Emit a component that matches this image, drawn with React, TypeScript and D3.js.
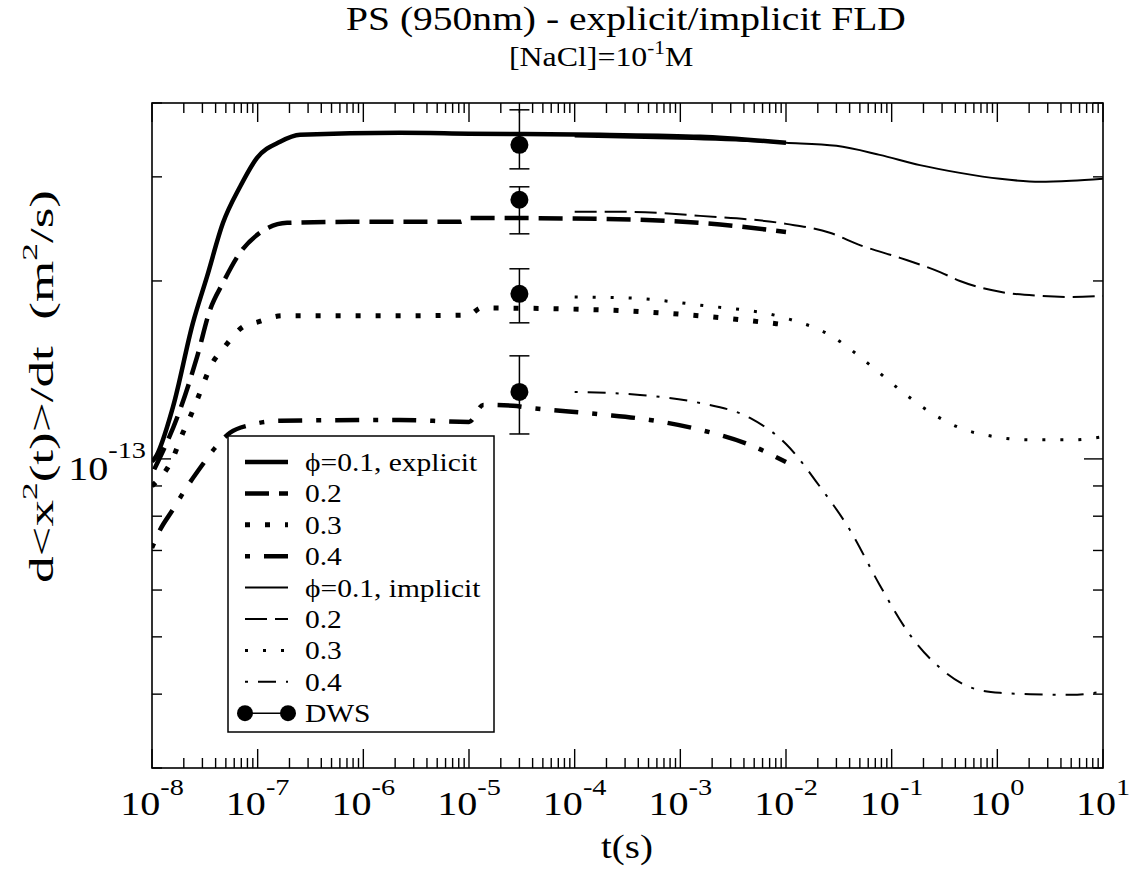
import React from "react";
import * as d3 from "d3";

// ---- data (t in s, value in m^2/s) ----
const explicit01: [number, number][] = [
  [1.0e-8, 0.99e-13], [1.07e-8, 1.004e-13], [1.58e-8, 1.225e-13], [2.44e-8, 1.699e-13],
  [3.31e-8, 2.032e-13], [4.7e-8, 2.508e-13], [6.81e-8, 2.886e-13], [9.86e-8, 3.23e-13],
  [1.63e-7, 3.439e-13], [2.52e-7, 3.533e-13], [2.22e-6, 3.562e-13], [1.0e-5, 3.55e-13],
  [1.74e-4, 3.533e-13], [1.54e-3, 3.506e-13], [1.0e-2, 3.425e-13],
];
const explicit02: [number, number][] = [
  [1.05e-8, 0.96e-13], [1.84e-8, 1.21e-13], [2.67e-8, 1.488e-13], [3.54e-8, 1.787e-13],
  [4.7e-8, 1.986e-13], [6.81e-8, 2.232e-13], [1.05e-7, 2.413e-13], [1.9e-7, 2.508e-13],
  [7.48e-7, 2.518e-13], [8.2e-6, 2.518e-13], [1.02e-5, 2.557e-13], [1.74e-4, 2.547e-13],
  [1.54e-3, 2.508e-13], [1.0e-2, 2.42e-13],
];
const explicit03: [number, number][] = [
  [1.0e-8, 0.9e-13], [1.58e-8, 1.004e-13], [1.96e-8, 1.107e-13], [2.19e-8, 1.155e-13],
  [2.67e-8, 1.258e-13], [3.78e-8, 1.459e-13], [4.7e-8, 1.535e-13], [7.26e-8, 1.673e-13],
  [1.01e-7, 1.705e-13], [1.7e-7, 1.746e-13], [2.2e-6, 1.746e-13], [1.0e-5, 1.752e-13],
  [1.3e-5, 1.8e-13], [1.74e-4, 1.787e-13], [1.54e-3, 1.746e-13], [1.0e-2, 1.686e-13],
];
const explicit04: [number, number][] = [
  [1.0e-8, 0.707e-13], [1.19e-8, 0.758e-13], [1.55e-8, 0.817e-13], [2.05e-8, 0.886e-13],
  [2.85e-8, 0.965e-13], [3.95e-8, 1.044e-13], [5.47e-8, 1.107e-13], [8.46e-8, 1.141e-13],
  [1.63e-7, 1.16e-13], [2.2e-6, 1.164e-13], [1.0e-5, 1.155e-13], [1.36e-5, 1.234e-13],
  [2.61e-5, 1.23e-13], [3.78e-5, 1.22e-13], [1.74e-4, 1.19e-13], [5.16e-4, 1.164e-13],
  [1.54e-3, 1.12e-13], [4.56e-3, 1.056e-13], [1.0e-2, 0.988e-13],
];
const implicit01: [number, number][] = [
  [1.0e-4, 3.51e-13], [1.0e-3, 3.479e-13], [1.0e-2, 3.425e-13], [3.0e-2, 3.385e-13],
  [7.7e-2, 3.268e-13], [0.185, 3.14e-13], [0.443, 3.047e-13], [1.06, 2.977e-13],
  [2.53, 2.943e-13], [5.0, 2.954e-13], [10, 2.977e-13],
];
const implicit02: [number, number][] = [
  [1.0e-4, 2.618e-13], [3.2e-4, 2.618e-13], [1.54e-3, 2.577e-13], [1.0e-2, 2.498e-13],
  [2.6e-2, 2.413e-13], [5.0e-2, 2.3e-13], [0.12, 2.188e-13], [0.287, 2.07e-13],
  [0.443, 2.0e-13], [1.06, 1.917e-13], [2.53, 1.887e-13], [5.0, 1.879e-13], [10, 1.887e-13],
];
const implicit03: [number, number][] = [
  [1.0e-4, 1.879e-13], [3.2e-4, 1.872e-13], [1.54e-3, 1.82e-13], [1.0e-2, 1.73e-13],
  [2.6e-2, 1.62e-13], [6.2e-2, 1.443e-13], [0.12, 1.308e-13], [0.231, 1.2e-13],
  [0.443, 1.128e-13], [0.851, 1.094e-13], [2.04, 1.077e-13], [5.0, 1.077e-13], [10, 1.09e-13],
];
const implicit04: [number, number][] = [
  [1.0e-4, 1.298e-13], [4.15e-4, 1.283e-13], [1.54e-3, 1.243e-13], [4.56e-3, 1.173e-13],
  [1.0e-2, 1.06e-13], [2.1e-2, 0.897e-13], [4.03e-2, 0.758e-13], [7.7e-2, 0.612e-13],
  [0.149, 0.504e-13], [0.287, 0.443e-13], [0.551, 0.411e-13], [1.06, 0.402e-13],
  [2.04, 0.4e-13], [5.0, 0.399e-13], [10, 0.404e-13],
];
const dwsT = 3.0e-5;
const dwsValues = [3.399e-13, 2.744e-13, 1.902e-13, 1.298e-13];
const dwsUpper = [3.895e-13, 2.886e-13, 2.097e-13, 1.494e-13];
const dwsLower = [3.095e-13, 2.403e-13, 1.699e-13, 1.102e-13];

const xDomain: [number, number] = [1e-8, 10];
const yDomain: [number, number] = [3e-14, 4e-13];
const xTickExps = [-8, -7, -6, -5, -4, -3, -2, -1, 0, 1];
const yTickExps = [-13];
const legendLabels = [
  "\u03D5=0.1, explicit", "0.2", "0.3", "0.4",
  "\u03D5=0.1, implicit", "0.2", "0.3", "0.4", "DWS",
];

const FONT = "Liberation Serif";
const SX = 1.18; // horizontal glyph stretch of the reference's text

const seriesStyles = [
  { data: explicit01, w: 4.5, dash: "" },
  { data: explicit02, w: 4.5, dash: "24,10" },
  { data: explicit03, w: 5, dash: "5,15" },
  { data: explicit04, w: 4.5, dash: "5,14,24,14" },
  { data: implicit01, w: 2, dash: "" },
  { data: implicit02, w: 2, dash: "22,8" },
  { data: implicit03, w: 3, dash: "3,15" },
  { data: implicit04, w: 2, dash: "3,10,18,10" },
];

export default function App() {
  const L = 152, R = 1103, T = 103, B = 768;
  const x = d3.scaleLog().domain(xDomain).range([L, R]);
  const y = d3.scaleLog().domain(yDomain).range([B, T]);
  const line = d3
    .line<[number, number]>()
    .x((d) => x(d[0]))
    .y((d) => y(d[1]))
    .curve(d3.curveMonotoneX);

  const xTicks = x.ticks();
  const yTicks = y.ticks();
  const isMajor = (v: number) => Math.abs(Math.log10(v) - Math.round(Math.log10(v))) < 1e-6;

  const legendX0 = 245, legendX1 = 288, legendTextX = 305;
  const legendY0 = 462, legendDy = 31.4;
  const tx = { fontFamily: FONT };

  return (
    <svg
      width={1140}
      height={871}
      style={{ position: "absolute", left: 0, top: 0, background: "#fff" }}
    >
      <rect x={0} y={0} width={1140} height={871} fill="#fff" />
      <defs>
        <clipPath id="clip">
          <rect x={L} y={T} width={R - L} height={B - T} />
        </clipPath>
      </defs>
      {/* title */}
      <g transform={`translate(626,30) scale(${SX},1)`}>
        <text x={0} y={0} fontSize={33.5} textAnchor="middle" fill="#000" style={tx}>
          PS (950nm) - explicit/implicit FLD
        </text>
      </g>
      <g transform={`translate(509,66) scale(${SX},1)`}>
        <text x={0} y={0} fontSize={27} fill="#000" style={tx}>
          [NaCl]=10
          <tspan dy={-12} fontSize={18}>-1</tspan>
          <tspan dy={12} fontSize={27}>M</tspan>
        </text>
      </g>

      {/* curves */}
      <g clipPath="url(#clip)">
        {seriesStyles.map((s, i) => (
          <path
            key={i}
            d={line(s.data) || ""}
            fill="none"
            stroke="#000"
            strokeWidth={s.w}
            strokeDasharray={s.dash || undefined}
            strokeLinejoin="round"
          />
        ))}
      </g>

      {/* DWS */}
      {dwsValues.map((v, i) => {
        const cx = x(dwsT);
        return (
          <g key={i}>
            <line x1={cx} x2={cx} y1={y(dwsUpper[i])} y2={y(dwsLower[i])} stroke="#000" strokeWidth={1.5} />
            <line x1={cx - 10} x2={cx + 10} y1={y(dwsUpper[i])} y2={y(dwsUpper[i])} stroke="#000" strokeWidth={1.5} />
            <line x1={cx - 10} x2={cx + 10} y1={y(dwsLower[i])} y2={y(dwsLower[i])} stroke="#000" strokeWidth={1.5} />
            <circle cx={cx} cy={y(v)} r={9} fill="#000" />
          </g>
        );
      })}

      {/* frame */}
      <rect x={L} y={T} width={R - L} height={B - T} fill="none" stroke="#000" strokeWidth={1.6} />

      {/* x ticks */}
      {xTicks.map((t, i) => {
        const len = isMajor(t) ? 19 : 10;
        const px = x(t);
        return (
          <g key={"xt" + i}>
            <line x1={px} x2={px} y1={B} y2={B - len} stroke="#000" strokeWidth={1.4} />
            <line x1={px} x2={px} y1={T} y2={T + len} stroke="#000" strokeWidth={1.4} />
          </g>
        );
      })}
      {/* y ticks */}
      {yTicks.map((v, i) => {
        const len = isMajor(v) ? 19 : 10;
        const py = y(v);
        return (
          <g key={"yt" + i}>
            <line x1={L} x2={L + len} y1={py} y2={py} stroke="#000" strokeWidth={1.4} />
            <line x1={R} x2={R - len} y1={py} y2={py} stroke="#000" strokeWidth={1.4} />
          </g>
        );
      })}

      {/* x tick labels */}
      {xTickExps.map((e) => (
        <g key={"xl" + e} transform={`translate(${x(Math.pow(10, e))},815) scale(${SX},1)`}>
          <text x={0} y={0} fontSize={34} textAnchor="middle" fill="#000" style={tx}>
            10
            <tspan dy={-20} fontSize={24}>{String(e)}</tspan>
          </text>
        </g>
      ))}
      {/* y tick labels */}
      {yTickExps.map((e) => (
        <g key={"yl" + e} transform={`translate(146,${y(Math.pow(10, e)) + 21}) scale(${SX},1)`}>
          <text x={0} y={0} fontSize={34} textAnchor="end" fill="#000" style={tx}>
            10
            <tspan dy={-22} fontSize={24}>{String(e)}</tspan>
          </text>
        </g>
      ))}

      {/* axis labels */}
      <g transform={`translate(627,858) scale(${SX},1)`}>
        <text x={0} y={0} fontSize={33} textAnchor="middle" fill="#000" style={tx}>t(s)</text>
      </g>
      <text
        transform="translate(53,583) rotate(-90)"
        fontSize={33}
        fill="#000"
        style={{ ...tx, whiteSpace: "pre" }}
        textLength={393}
        lengthAdjust="spacingAndGlyphs"
      >
        d&lt;x<tspan dy={-16} fontSize={22}>2</tspan>
        <tspan dy={16}>{"(t)>/dt  (m"}</tspan>
        <tspan dy={-16} fontSize={22}>2</tspan>
        <tspan dy={16}>/s)</tspan>
      </text>

      {/* legend */}
      <rect x={228} y={436} width={266} height={296} fill="#fff" stroke="#000" strokeWidth={1.5} />
      {legendLabels.map((lab, i) => {
        const ly = legendY0 + i * legendDy;
        const st = seriesStyles[i];
        return (
          <g key={"lg" + i}>
            {st ? (
              <line x1={legendX0} x2={legendX1} y1={ly} y2={ly} stroke="#000" strokeWidth={st.w} strokeDasharray={st.dash || undefined} />
            ) : (
              <g>
                <line x1={legendX0} x2={legendX1} y1={ly} y2={ly} stroke="#000" strokeWidth={1.5} />
                <circle cx={legendX0} cy={ly} r={8} fill="#000" />
                <circle cx={legendX1} cy={ly} r={8} fill="#000" />
              </g>
            )}
            <g transform={`translate(${legendTextX},${ly + 9}) scale(${SX},1)`}>
              <text x={0} y={0} fontSize={25} fill="#000" style={tx}>{lab}</text>
            </g>
          </g>
        );
      })}
    </svg>
  );
}
